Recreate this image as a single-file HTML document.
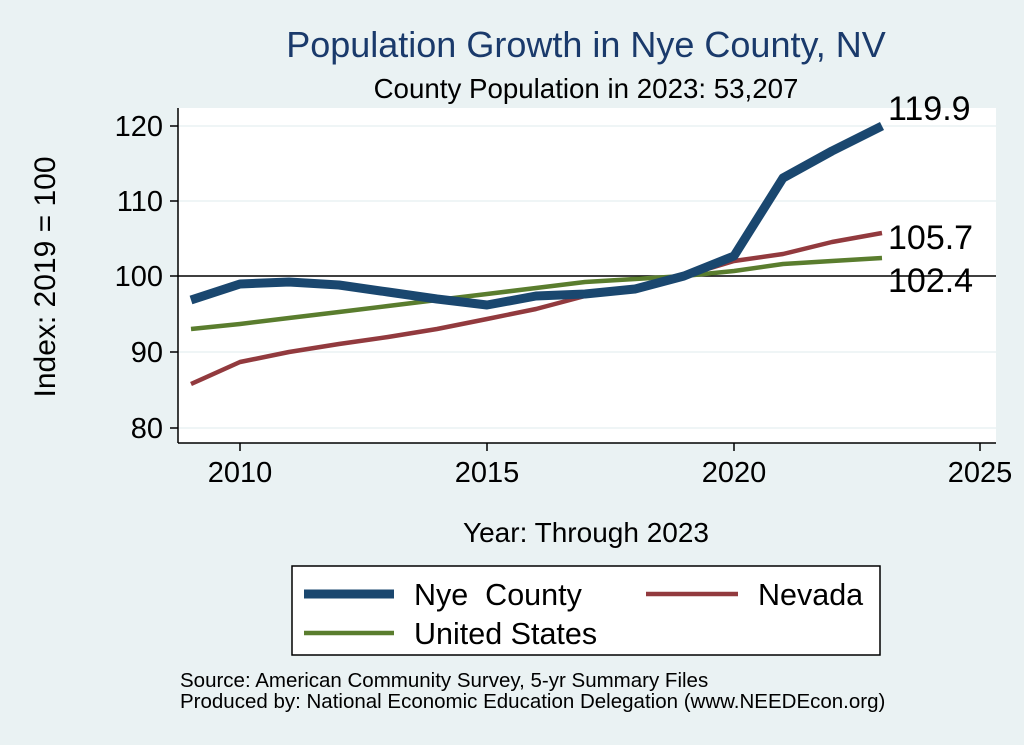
<!DOCTYPE html>
<html><head><meta charset="utf-8"><style>
body{margin:0;background:#eaf2f3;}
svg{display:block;font-family:"Liberation Sans",Arial,sans-serif;}
</style></head><body>
<svg width="1024" height="745" viewBox="0 0 1024 745">
<rect width="1024" height="745" fill="#eaf2f3"/>
<rect x="178" y="108" width="818" height="335" fill="#fff"/>
<g stroke="#eaf2f3" stroke-width="1.5">
<line x1="178" x2="996" y1="126" y2="126"/><line x1="178" x2="996" y1="201" y2="201"/>
<line x1="178" x2="996" y1="352" y2="352"/><line x1="178" x2="996" y1="428" y2="428"/>
</g>
<line x1="178" x2="996" y1="276" y2="276" stroke="#000" stroke-width="1.5"/>
<g stroke="#000" stroke-width="1.5">
<line x1="178" x2="178" y1="108" y2="443"/><line x1="178" x2="996" y1="443" y2="443"/>
<line x1="170" x2="178" y1="126" y2="126"/><line x1="170" x2="178" y1="201" y2="201"/>
<line x1="170" x2="178" y1="276" y2="276"/><line x1="170" x2="178" y1="352" y2="352"/>
<line x1="170" x2="178" y1="428" y2="428"/>
<line x1="240" x2="240" y1="443" y2="451"/><line x1="487" x2="487" y1="443" y2="451"/>
<line x1="734" x2="734" y1="443" y2="451"/><line x1="980" x2="980" y1="443" y2="451"/>
</g>
<g font-size="29" text-anchor="end" fill="#000">
<text x="163" y="136">120</text><text x="163" y="211">110</text><text x="163" y="286">100</text>
<text x="163" y="362">90</text><text x="163" y="438">80</text>
</g>
<g font-size="29" text-anchor="middle" fill="#000">
<text x="240" y="482">2010</text><text x="487" y="482">2015</text><text x="734" y="482">2020</text><text x="980" y="482">2025</text>
</g>
<text x="586" y="542" font-size="28" text-anchor="middle">Year: Through 2023</text>
<text transform="translate(55,277) rotate(-90)" font-size="30" text-anchor="middle">Index: 2019 = 100</text>
<text x="586" y="57" font-size="36" text-anchor="middle" fill="#1a3a6b">Population Growth in Nye County, NV</text>
<text x="586" y="98" font-size="27.7" text-anchor="middle">County Population in 2023: 53,207</text>
<polyline fill="none" stroke="#5a7d2e" stroke-width="4.5" stroke-linejoin="round" points="191,329 240,324 289,318 339,312 388,306 437,300 487,294 536,288 585,282 635,279 684,276 734,271 783,264 832,261 882,258"/>
<polyline fill="none" stroke="#923a3e" stroke-width="4.5" stroke-linejoin="round" points="191,384 240,362 289,352 339,344 388,337 437,329 487,319 536,309 585,296 635,287 684,276 734,261 783,254 832,242 882,233"/>
<polyline fill="none" stroke="#1a476f" stroke-width="9" stroke-linejoin="round" points="191,300 240,284 289,282 339,285 388,292 437,299 487,305 536,296 585,294 635,289 684,276 734,256 783,178 832,151 882,126"/>
<g font-size="34"><text x="888" y="120">119.9</text><text x="888" y="249">105.7</text><text x="888" y="292">102.4</text></g>
<rect x="292" y="566" width="588" height="89" fill="#fff" stroke="#000" stroke-width="1.5"/>
<line x1="304" x2="394" y1="594" y2="594" stroke="#1a476f" stroke-width="9"/>
<line x1="646" x2="738" y1="594" y2="594" stroke="#923a3e" stroke-width="4.5"/>
<line x1="304" x2="394" y1="633" y2="633" stroke="#5a7d2e" stroke-width="4.5"/>
<g font-size="30.5"><text x="414" y="605" xml:space="preserve">Nye  County</text><text x="758" y="605">Nevada</text><text x="414" y="644">United States</text></g>
<g font-size="20.5"><text x="180" y="687">Source: American Community Survey, 5-yr Summary Files</text>
<text x="180" y="708">Produced by: National Economic Education Delegation (www.NEEDEcon.org)</text></g>
</svg>
</body></html>
